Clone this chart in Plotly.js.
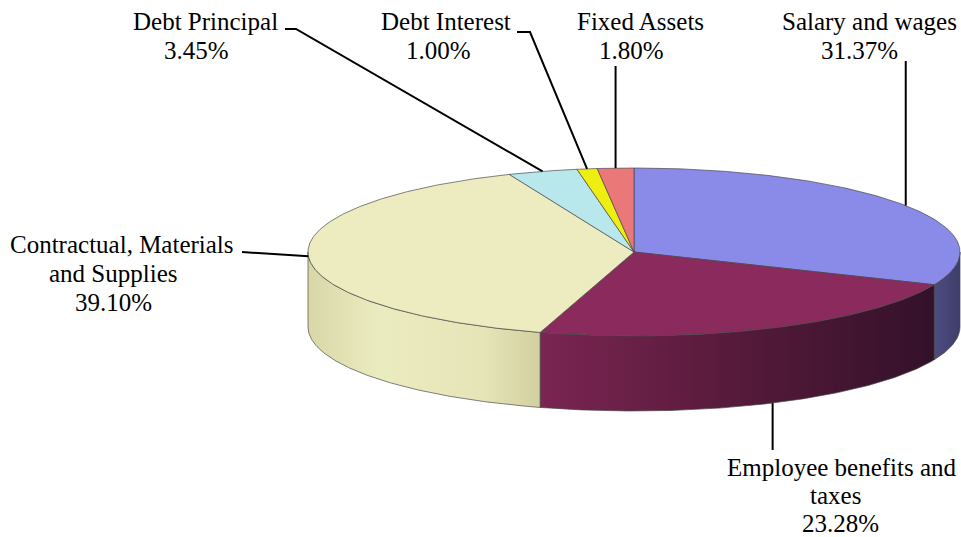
<!DOCTYPE html>
<html><head><meta charset="utf-8">
<script src="https://cdn.plot.ly/plotly-3.0.1.min.js"></script>
<style>html,body{margin:0;padding:0;background:#fff;}#chart{width:961px;height:537px;}</style>
</head><body><div id="chart"></div>
<script>
// ---- data ----
const categories = ["Salary and wages", "Employee benefits and taxes", "Contractual, Materials and Supplies", "Debt Principal", "Debt Interest", "Fixed Assets"];
const values = [31.37, 23.28, 39.10, 3.45, 1.00, 1.80];
const pctLabels = ["31.37%", "23.28%", "39.10%", "3.45%", "1.00%", "1.80%"];

// ---- styling ----
const topColors = ["#8a8ae8", "#8b2a5c", "#ececc0", "#b8e8ec", "#eeee10", "#ea7878"];
const sideScales = [
  [[0, "#4c4c80"], [1, "#3e3e6c"]],
  [[0, "#7a2552"], [0.5, "#561a3a"], [1, "#33112a"]],
  [[0, "#d8d7a8"], [0.3, "#ebebc0"], [0.75, "#e6e5b8"], [1, "#d2d0a0"]],
  [[0, "#9cc8cc"], [1, "#9cc8cc"]],
  [[0, "#c8c800"], [1, "#c8c800"]],
  [[0, "#c86060"], [1, "#c86060"]]
];
const cx = 634, cy = 252, rx = 326, ry = 84, depth = 75;
const edge = "rgba(70,70,70,0.85)";
const FONT = "'Liberation Serif', 'Times New Roman', Times, serif";

function P(deg, dy) {
  const r = deg * Math.PI / 180;
  return [cx + rx * Math.sin(r), cy - ry * Math.cos(r) + (dy || 0)];
}
function arc(a0, a1, dy) {
  const n = Math.max(2, Math.ceil(Math.abs(a1 - a0) / 0.5));
  const pts = [];
  for (let i = 0; i <= n; i++) pts.push(P(a0 + (a1 - a0) * i / n, dy));
  return pts;
}

const total = values.reduce((a, b) => a + b, 0);
const starts = [], ends = [];
let acc = 0;
values.forEach(v => { starts.push(acc / total * 360); acc += v; ends.push(acc / total * 360); });

const traces = [];
// side faces (front half only: 90..270 deg)
values.forEach((v, i) => {
  const lo = Math.max(starts[i], 90), hi = Math.min(ends[i], 270);
  if (hi <= lo) return;
  const pts = arc(lo, hi, 0).concat(arc(hi, lo, depth));
  pts.push(pts[0]);
  traces.push({
    type: "scatter", mode: "lines", x: pts.map(p => p[0]), y: pts.map(p => p[1]),
    fill: "toself", fillgradient: { type: "horizontal", colorscale: sideScales[i] },
    line: { color: edge, width: 0.8 }, hoverinfo: "skip", showlegend: false
  });
});
// top faces
values.forEach((v, i) => {
  const pts = [[cx, cy]].concat(arc(starts[i], ends[i], 0));
  pts.push([cx, cy]);
  traces.push({
    type: "scatter", mode: "lines", x: pts.map(p => p[0]), y: pts.map(p => p[1]),
    fill: "toself", fillcolor: topColors[i],
    line: { color: edge, width: 0.8 }, hoverinfo: "skip", showlegend: false
  });
});

// label layout (positions)
const nameLines = [["Salary and wages"], ["Employee benefits and", "taxes"], ["Contractual, Materials", "and Supplies"], ["Debt Principal"], ["Debt Interest"], ["Fixed Assets"]];
const labelPos = [
  { x: [869], pct: 859, y0: 21, gap: 29, leader: "up", from: 61 },
  { x: [842, 835], pct: 840, y0: 467, gap: 28, leader: "down", from: 450 },
  { x: [122, 113], pct: 113, y0: 244, gap: 29, leader: "side", fx: 242, fy: 252 },
  { x: [205], pct: 196, y0: 21, gap: 29, leader: "elbow", fx: 285, fy: 29, ex: 296 },
  { x: [446], pct: 438, y0: 21, gap: 29, leader: "elbow", fx: 517, fy: 32, ex: 530 },
  { x: [640], pct: 631, y0: 21, gap: 29, leader: "up", from: 66 }
];
const annotations = [];
values.forEach((v, i) => {
  const L = labelPos[i];
  nameLines[i].forEach((t, k) => {
    annotations.push({ x: L.x[k], y: L.y0 + k * L.gap, xref: "x", yref: "y", text: t, showarrow: false,
      xanchor: "center", yanchor: "middle", font: { family: FONT, size: 25, color: "#000" } });
  });
  annotations.push({ x: L.pct, y: L.y0 + nameLines[i].length * L.gap, xref: "x", yref: "y", text: pctLabels[i], showarrow: false,
    xanchor: "center", yanchor: "middle", font: { family: FONT, size: 25, color: "#000" } });

  const mid = (starts[i] + ends[i]) / 2;
  let xs, ys;
  if (L.leader === "up") {
    const a = P(mid, 0); xs = [a[0], a[0]]; ys = [L.from, a[1]];
  } else if (L.leader === "down") {
    const a = P(mid, depth); xs = [a[0], a[0]]; ys = [L.from, a[1]];
  } else if (L.leader === "side") {
    const a = P(mid, 0); xs = [L.fx, a[0]]; ys = [L.fy, a[1]];
  } else {
    const a = P(mid, 0); xs = [L.fx, L.ex, a[0]]; ys = [L.fy, L.fy, a[1]];
  }
  traces.push({ type: "scatter", mode: "lines", x: xs, y: ys, line: { color: "#000", width: 2 }, hoverinfo: "skip", showlegend: false });
});

const layout = {
  width: 961, height: 537, margin: { l: 0, r: 0, t: 0, b: 0 },
  paper_bgcolor: "#fff", plot_bgcolor: "#fff", showlegend: false,
  xaxis: { range: [0, 961], visible: false, fixedrange: true },
  yaxis: { range: [537, 0], visible: false, fixedrange: true },
  annotations: annotations
};
Plotly.newPlot("chart", traces, layout, { staticPlot: true, displayModeBar: false });
</script>
</body></html>
